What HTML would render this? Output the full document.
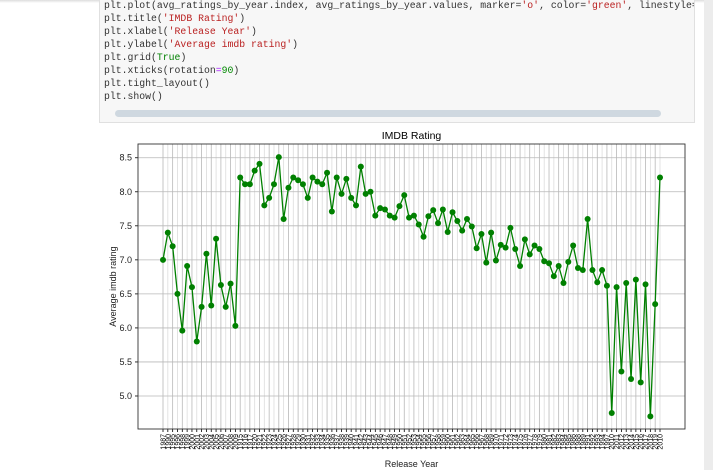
<!DOCTYPE html>
<html><head><meta charset="utf-8"><style>
body{margin:0;width:713px;height:470px;background:#fff;position:relative;overflow:hidden;font-family:"Liberation Sans",sans-serif}
#cell{position:absolute;left:99px;top:-2px;width:594px;height:123px;background:#f7f7f7;border:1px solid #e0e0e0;overflow:hidden}
#code{position:absolute;left:4px;top:0px;margin:0;font:9.8px/13px "Liberation Mono",monospace;color:#333;white-space:pre}
.s{color:#ba2121}.k{color:#008000}.n{color:#080}.o{color:#a2f}
#scroll{position:absolute;left:15px;top:111px;width:546px;height:7px;background:#cfd8e0;border-radius:4px}
#strip{position:absolute;left:704px;top:0;width:9px;height:470px;background:#ececec}
#topsh{position:absolute;left:0;top:0;width:704px;height:3px;background:linear-gradient(#ddd,#fff)}
</style></head><body>
<div id="topsh"></div>
<div id="strip"></div>
<div id="cell">
<pre id="code">plt.plot(avg_ratings_by_year.index, avg_ratings_by_year.values, marker=<span class="s">'o'</span>, color=<span class="s">'green'</span>, linestyle=<span class="s">'-'</span>)
plt.title(<span class="s">'IMDB Rating'</span>)
plt.xlabel(<span class="s">'Release Year'</span>)
plt.ylabel(<span class="s">'Average imdb rating'</span>)
plt.grid(<span class="k">True</span>)
plt.xticks(rotation<span class="o">=</span><span class="n">90</span>)
plt.tight_layout()
plt.show()</pre>
<div id="scroll"></div>
</div>
<svg id="chart" width="713" height="470" style="position:absolute;left:0;top:0"></svg>
<script>
const ratings=[7.0,7.4,7.2,6.5,5.96,6.91,6.6,5.8,6.31,7.09,6.33,7.31,6.63,6.31,6.65,6.03,8.21,8.11,8.11,8.31,8.41,7.8,7.91,8.11,8.51,7.6,8.06,8.21,8.17,8.11,7.91,8.21,8.15,8.11,8.28,7.71,8.21,7.97,8.19,7.91,7.8,8.37,7.97,8.0,7.65,7.76,7.74,7.65,7.62,7.79,7.95,7.62,7.65,7.52,7.34,7.64,7.73,7.54,7.74,7.41,7.7,7.57,7.43,7.6,7.49,7.17,7.38,6.96,7.4,6.99,7.22,7.18,7.47,7.16,6.91,7.3,7.08,7.21,7.16,6.98,6.95,6.76,6.91,6.66,6.97,7.21,6.88,6.85,7.6,6.85,6.67,6.85,6.62,4.75,6.6,5.36,6.66,5.25,6.71,5.2,6.64,4.7,6.35,8.21];
const years=["1987","1990","1995","1996","1998","1999","2000","2001","2002","2003","2004","2005","2006","2007","2008","2009","1915","1916","1917","1920","1921","1922","1923","1924","1925","1926","1927","1928","1929","1930","1931","1932","1933","1934","1935","1936","1937","1938","1939","1940","1941","1942","1943","1944","1945","1946","1947","1948","1949","1950","1951","1952","1953","1954","1955","1956","1957","1958","1959","1960","1961","1962","1963","1964","1965","1966","1967","1968","1969","1970","1971","1972","1973","1974","1975","1976","1977","1978","1979","1980","1981","1982","1983","1984","1985","1986","1988","1989","1991","1992","1993","1994","1997","2010","2011","2012","2013","2014","2015","2016","2017","2018","2019","2010"];
const yTicks=[5.0,5.5,6.0,6.5,7.0,7.5,8.0,8.5];
const NS="http://www.w3.org/2000/svg";
const svg=document.getElementById('chart');
const L=138,R=685,T=144,B=429,yMin=4.515,yMax=8.702;
const x0=163,x1=660;
function xs(i){return x0+(x1-x0)*i/(ratings.length-1);}
function ys(v){return B-(v-yMin)/(yMax-yMin)*(B-T);}
function mk(tag,at,par){const e=document.createElementNS(NS,tag);for(const k in at)e.setAttribute(k,at[k]);(par||svg).appendChild(e);return e;}
years.forEach((y,i)=>{
 const g=mk('line',{x1:xs(i),x2:xs(i),y1:T,y2:B,stroke:i%2?'#dcdcdc':'#b8b8b8','stroke-width':0.8});
 
 
 const t=mk('line',{x1:xs(i),x2:xs(i),y1:B,y2:B+3,stroke:'#000','stroke-width':0.8});
 
 
 const lb=mk('text',{x:0,y:0,transform:`translate(${xs(i)+2.5},${B+5}) rotate(-90)`,'text-anchor':'end','font-size':7,fill:'#000'});
 lb.textContent=y;
 
 
});
yTicks.forEach(v=>{
 const g=mk('line',{x1:L,x2:R,y1:ys(v),y2:ys(v),stroke:'#b8b8b8','stroke-width':0.8});
 
 
 mk('line',{x1:L-3,x2:L,y1:ys(v),y2:ys(v),stroke:'#000','stroke-width':0.8});
 const lb=mk('text',{x:L-6,y:ys(v)+3,'text-anchor':'end','font-size':9,fill:'#222'});
 lb.textContent=v.toFixed(1);
 
 
});
const fr=mk('rect',{x:L,y:T,width:R-L,height:B-T,fill:'none',stroke:'#333','stroke-width':0.9});


const line=mk('polyline',{points:ratings.map((v,i)=>xs(i)+','+ys(v)).join(' '),fill:'none',stroke:'green','stroke-width':1.3});


ratings.forEach((v,i)=>{
 const c=mk('circle',{cx:xs(i),cy:ys(v),r:3,fill:'green'});
 
 
});
const ti=mk('text',{x:(L+R)/2,y:139,'text-anchor':'middle','font-size':10.5,fill:'#000'});ti.textContent='IMDB Rating';


const xl=mk('text',{x:(L+R)/2,y:467,'text-anchor':'middle','font-size':9,fill:'#222'});xl.textContent='Release Year';


const yl=mk('text',{x:0,y:0,transform:`translate(116,${(T+B)/2}) rotate(-90)`,'text-anchor':'middle','font-size':9,fill:'#222'});yl.textContent='Average imdb rating';


</script>
</body></html>
